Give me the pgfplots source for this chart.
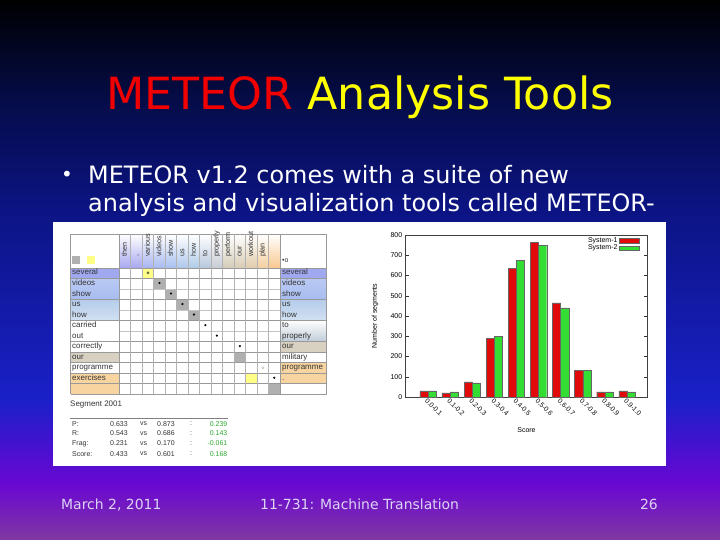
\documentclass[border=0pt]{standalone}
\usepackage{fontspec}
\usepackage{pgfplots}
\pgfplotsset{compat=1.18}
\setmainfont{DejaVu Sans}
\newfontfamily\chartfont{Liberation Sans}
\newcommand\cf[1]{\chartfont\fontsize{#1}{#1}\selectfont}
\newcommand\fs[1]{\fontsize{#1}{#1}\selectfont}
\pgfplotsset{boxlegend/.style={legend image code/.code={\draw[##1] (0bp,-2.4bp) rectangle (20bp,2.4bp);}}}
\definecolor{bg0}{HTML}{000000}
\definecolor{bg1}{HTML}{050C48}
\definecolor{bg2}{HTML}{0C1484}
\definecolor{bg3}{HTML}{1A20C8}
\definecolor{bg4}{HTML}{4A10D0}
\definecolor{bg5}{HTML}{6A08D2}
\definecolor{bg6}{HTML}{8038A0}
\definecolor{titlered}{HTML}{F00000}
\definecolor{titleyel}{HTML}{FFFF00}
\definecolor{foot}{HTML}{DCD4F4}
\definecolor{h1}{HTML}{A8A8F0}
\definecolor{h3}{HTML}{A8B4F0}
\definecolor{h4}{HTML}{A8BAF0}
\definecolor{h5}{HTML}{A8C0F0}
\definecolor{h6}{HTML}{B0C8EC}
\definecolor{h7}{HTML}{B0CCE8}
\definecolor{h8}{HTML}{B8C8DC}
\definecolor{h9}{HTML}{C8CCD4}
\definecolor{h10}{HTML}{D4CCB8}
\definecolor{h11}{HTML}{D8CCB4}
\definecolor{h12}{HTML}{E0CCAC}
\definecolor{h13}{HTML}{F4D0A0}
\definecolor{h14}{HTML}{F8C890}
\definecolor{lav}{HTML}{A0A8F0}
\definecolor{blu}{HTML}{A8BCF0}
\definecolor{lblu}{HTML}{B4CCEA}
\definecolor{gblu}{HTML}{C0CCD8}
\definecolor{tan}{HTML}{D8D0C0}
\definecolor{ora}{HTML}{F8D4A0}
\definecolor{ycell}{HTML}{FFFF88}
\definecolor{gcell}{HTML}{B0B0B0}
\definecolor{gridc}{HTML}{C4C4C4}
\definecolor{txt}{HTML}{333333}
\definecolor{dgreen}{HTML}{2FA82F}
\definecolor{barred}{HTML}{E00A0A}
\definecolor{bargreen}{HTML}{33DD33}
\begin{document}
\begin{tikzpicture}[x=1bp,y=1bp]
\begin{scope}[y=-1bp]
\useasboundingbox (0,0) rectangle (720,540);
% background
\shade[top color=bg0,bottom color=bg1] (0,-0.5) rectangle (720,100.5);
\shade[top color=bg1,bottom color=bg2] (0,100) rectangle (720,210.5);
\shade[top color=bg2,bottom color=bg3] (0,210) rectangle (720,400.5);
\shade[top color=bg3,bottom color=bg4] (0,400) rectangle (720,450.5);
\shade[top color=bg4,bottom color=bg5] (0,450) rectangle (720,485.5);
\shade[top color=bg5,bottom color=bg6] (0,485) rectangle (720,540.5);
% title
\node[anchor=base, inner sep=0] at (360,110) {\fs{44.5}\textcolor{titlered}{METEOR} \textcolor{titleyel}{Analysis Tools}};
% bullet
\node[anchor=center, inner sep=0, white] at (67,176) {\fs{20}•};
\node[anchor=base west, inner sep=0, white] at (88,184) {\fs{24}METEOR v1.2 comes with a suite of new};
\node[anchor=base west, inner sep=0, white] at (88,212) {\fs{24}analysis and visualization tools called METEOR-};
% footer
\node[anchor=base west, inner sep=0, foot] at (61,509) {\fs{14}March 2, 2011};
\node[anchor=base west, inner sep=0, foot] at (260,509) {\fs{14}11-731: Machine Translation};
\node[anchor=base east, inner sep=0, foot] at (658,509) {\fs{14}26};
% white box
\fill[white] (53,222) rectangle (666,466);
% header fills
\foreach \c/\col in {1/h1,2/h1,3/h3,4/h4,5/h5,6/h6,7/h7,8/h8,9/h9,10/h10,11/h11,12/h12,13/h13,14/h14}
  \shade[top color=white,bottom color=\col] ({119.3+(\c-1)*11.48},234.3) rectangle ({119.3+\c*11.48},267.7);
% left label fills
\fill[lav] (70.7,267.7) rectangle (119.3,278.23);
\shade[top color=blu!80,bottom color=blu] (70.7,278.23) rectangle (119.3,299.29);
\shade[top color=lblu,bottom color=lblu!60] (70.7,299.29) rectangle (119.3,320.35);
\fill[tan] (70.7,351.94) rectangle (119.3,362.47);
\fill[ora] (70.7,373.0) rectangle (119.3,394.06);
% right label fills
\fill[lav] (280.02,267.7) rectangle (326.7,278.23);
\shade[top color=blu!80,bottom color=blu] (280.02,278.23) rectangle (326.7,299.29);
\shade[top color=lblu,bottom color=lblu!60] (280.02,299.29) rectangle (326.7,320.35);
\shade[top color=white,bottom color=gblu] (280.02,320.35) rectangle (326.7,341.41);
\fill[tan] (280.02,341.41) rectangle (326.7,351.94);
\fill[ora] (280.02,362.47) rectangle (326.7,383.53);
% legend squares
\fill[gcell] (72.3,256) rectangle (80,264);
\fill[ycell] (86.7,256) rectangle (95,264);
\end{scope}
% matrix cells and alignment marks
\begin{axis}[at={(119.3bp,-267.7bp)}, anchor=north west, width=160.72bp, height=126.36bp,
  scale only axis, xmin=0, xmax=14, ymin=0, ymax=12, y dir=reverse, hide axis, clip=false]
\fill[ycell] (axis cs:2,0) rectangle (axis cs:3,1);
\fill[ycell] (axis cs:11,10) rectangle (axis cs:12,11);
\fill[gcell] (axis cs:3,1) rectangle (axis cs:4,2);
\fill[gcell] (axis cs:4,2) rectangle (axis cs:5,3);
\fill[gcell] (axis cs:5,3) rectangle (axis cs:6,4);
\fill[gcell] (axis cs:6,4) rectangle (axis cs:7,5);
\fill[gcell] (axis cs:10,8) rectangle (axis cs:11,9);
\fill[gcell] (axis cs:13,11) rectangle (axis cs:14,12);
\addplot[only marks, mark=*, mark size=0.9bp, black] coordinates {(3.5,1.45) (4.5,2.45) (5.5,3.45) (6.5,4.45) (7.5,5.45) (8.5,6.45) (10.5,7.45) (13.5,10.45)};
\addplot[only marks, mark=o, mark size=1.2bp, black!80] coordinates {(2.5,0.5)};
\addplot[only marks, mark=o, mark size=1.2bp, black!25] coordinates {(12.5,9.5)};
\end{axis}
\begin{scope}[y=-1bp]
% grid lines
\foreach \y in {278.23,288.76,299.29,309.82,320.35,330.88,341.41,351.94,362.47,373.0,383.53}
  \draw[gridc, line width=0.4bp] (119.3,\y) -- (280.02,\y);
\foreach \y in {234.3,267.7,278.23,299.29,320.35,341.41,351.94,362.47,373.0,383.53,394.06}
  \draw[black!40, line width=0.4bp] (70.7,\y) -- (326.7,\y);
\foreach \x in {130.78,142.26,153.74,165.22,176.7,188.18,199.66,211.14,222.62,234.1,245.58,257.06,268.54}
  \draw[black!30, line width=0.6bp] (\x,234.3) -- (\x,394.06);
\foreach \x in {70.7,119.3,280.02,326.7}
  \draw[black!40, line width=0.5bp] (\x,234.3) -- (\x,394.06);
% header words
\foreach \c/\w in {1/then,2/{,},3/various,4/videos,5/show,6/us,7/how,8/to,9/properly,10/perform,11/our,12/workout,13/plan}
  \node[rotate=90, anchor=west, inner sep=0, txt, text height=5.2bp, text depth=1.5bp] at ({119.3+(\c-0.5)*11.48},257) {\cf{7.2}\w};
\node[anchor=west, inner sep=0, txt] at (282,261) {\cf{7}•o};
% left labels
\foreach \r/\w in {1/several,2/videos,3/show,4/us,5/how,6/carried,7/out,8/correctly,9/our,10/programme,11/exercises}
  \node[anchor=west, inner sep=0, txt, text height=5.6bp, text depth=1.6bp] at (72,{267.7+(\r-0.5)*10.53}) {\cf{8}\w};
\foreach \r/\w in {1/several,2/videos,3/show,4/us,5/how,6/to,7/properly,8/our,9/military,10/programme,11/.}
  \node[anchor=west, inner sep=0, txt, text height=5.6bp, text depth=1.6bp] at (282,{267.7+(\r-0.5)*10.53}) {\cf{8}\w};
% stats
\node[anchor=west, inner sep=0, txt] at (70,405) {\cf{8}Segment 2001};
\draw[black!50, line width=0.5bp] (70,418) -- (228,418);
\foreach \y/\a/\b/\c/\d in {424/P:/0.633/0.873/0.239, 433.5/R:/0.543/0.686/0.143, 443.5/Frag:/0.231/0.170/-0.061, 454/Score:/0.433/0.601/0.168} {
  \node[anchor=west, inner sep=0, txt] at (72,\y) {\cf{7}\a};
  \node[anchor=west, inner sep=0, txt] at (110,\y) {\cf{7}\b};
  \node[anchor=west, inner sep=0, txt] at (140,\y) {\cf{7}vs};
  \node[anchor=west, inner sep=0, txt] at (157,\y) {\cf{7}\c};
  \node[anchor=center, inner sep=0, txt] at (191,\y) {\cf{7}:};
  \node[anchor=east, inner sep=0, dgreen] at (227.5,\y) {\cf{7}\d};
}
\end{scope}
% bar chart
\begin{axis}[at={(405.7bp,-397bp)}, anchor=south west, width=241.6bp, height=162bp, scale only axis,
  xmin=-1.01, xmax=9.92, ymin=0, ymax=800,
  ytick={0,100,...,800},
  xtick={0,...,9},
  xticklabels={0.0-0.1,0.1-0.2,0.2-0.3,0.3-0.4,0.4-0.5,0.5-0.6,0.6-0.7,0.7-0.8,0.8-0.9,0.9-1.0},
  xtick style={draw=none},
  ytick style={black!80, line width=0.4bp},
  major tick length=3bp, tick align=inside,
  /pgf/number format/assume math mode=true,
  tick label style={font=\cf{7}},
  xticklabel style={rotate=-45, anchor=north west, inner sep=0.5bp, font=\cf{6.8}},
  axis line style={black!75, line width=0.6bp},
  ylabel={Number of segments}, xlabel={Score},
  label style={font=\cf{7}},
  ylabel style={at={(axis description cs:-0.127,0.5)}, anchor=center},
  xlabel style={at={(axis description cs:0.5,-0.204)}, anchor=center},
  legend style={at={(axis description cs:0.966,0.99)}, anchor=north east, draw=none, fill=none,
    font=\cf{7}, inner sep=0pt, row sep=-1.2bp, nodes={inner sep=1bp}},
  legend cell align=right, legend plot pos=right,
]
\addplot[ybar, bar width=0.37, bar shift=-0.185, fill=barred, draw=black!60, line width=0.4bp, boxlegend]
  coordinates {(0,30) (1,20) (2,75) (3,290) (4,635) (5,765) (6,465) (7,130) (8,25) (9,30)};
\addlegendentry{System-1}
\addplot[ybar, bar width=0.37, bar shift=0.185, fill=bargreen, draw=black!60, line width=0.4bp, boxlegend]
  coordinates {(0,30) (1,25) (2,70) (3,300) (4,675) (5,750) (6,440) (7,130) (8,25) (9,25)};
\addlegendentry{System-2}
\end{axis}
\end{tikzpicture}
\end{document}
